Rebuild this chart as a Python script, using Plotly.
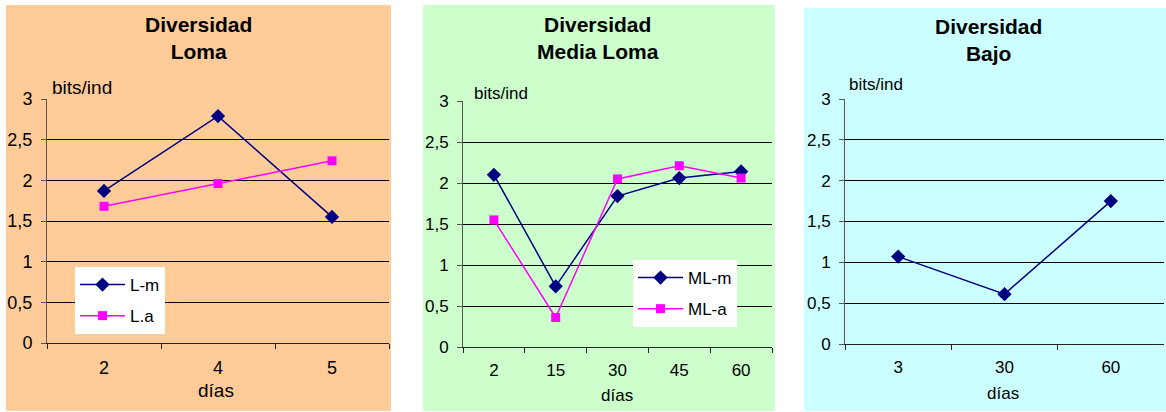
import plotly.graph_objects as go

# datos
dias_loma = ["2", "4", "5"]
loma_m = [1.87, 2.79, 1.55]
loma_a = [1.68, 1.96, 2.24]

dias_media = ["2", "15", "30", "45", "60"]
media_m = [2.10, 0.74, 1.84, 2.06, 2.14]
media_a = [1.55, 0.36, 2.05, 2.21, 2.06]

dias_bajo = ["3", "30", "60"]
bajo_m = [1.07, 0.61, 1.75]

W, H = 1166, 412
FONT = "Liberation Sans, Arial, sans-serif"
NAVY = "#000080"
MAGENTA = "#FF00FF"


def px(x):
    return x / W


def py(y):
    return 1 - y / H


fig = go.Figure()

# Loma
fig.add_trace(go.Scatter(x=dias_loma, y=loma_m, name="L-m", mode="lines+markers",
                         line=dict(color=NAVY, width=1.5),
                         marker=dict(symbol="diamond", size=11, color=NAVY),
                         xaxis="x", yaxis="y", legend="legend", legendgroup="a"))
fig.add_trace(go.Scatter(x=dias_loma, y=loma_a, name="L.a", mode="lines+markers",
                         line=dict(color=MAGENTA, width=1.5),
                         marker=dict(symbol="square", size=9, color=MAGENTA),
                         xaxis="x", yaxis="y", legend="legend", legendgroup="b"))
# Media Loma
fig.add_trace(go.Scatter(x=dias_media, y=media_m, name="ML-m", mode="lines+markers",
                         line=dict(color=NAVY, width=1.5),
                         marker=dict(symbol="diamond", size=11, color=NAVY),
                         xaxis="x2", yaxis="y2", legend="legend2", legendgroup="c"))
fig.add_trace(go.Scatter(x=dias_media, y=media_a, name="ML-a", mode="lines+markers",
                         line=dict(color=MAGENTA, width=1.5),
                         marker=dict(symbol="square", size=9, color=MAGENTA),
                         xaxis="x2", yaxis="y2", legend="legend2", legendgroup="d"))
# Bajo
fig.add_trace(go.Scatter(x=dias_bajo, y=bajo_m, name="B-m", mode="lines+markers",
                         line=dict(color=NAVY, width=1.5),
                         marker=dict(symbol="diamond", size=11, color=NAVY),
                         xaxis="x3", yaxis="y3", showlegend=False))

# panel: fondo (x0, x1, y top, color), area (x0, x1, y top, y bottom), n categorias, fuente
panels = [
    ((6, 391, 5, "#FFCC99"), (47, 389, 99, 343), 3, 17),
    ((423, 775, 5, "#CCFFCC"), (463, 772, 101, 347), 5, 16),
    ((804, 1166, 8, "#CCFFFF"), (845, 1164, 99, 344), 3, 16),
]

shapes = []
for i, (bg, area, n, fs) in enumerate(panels):
    shapes.append(dict(type="rect", xref="paper", yref="paper", layer="below",
                       x0=px(bg[0]), x1=px(bg[1]), y0=py(411), y1=py(bg[2]),
                       fillcolor=bg[3], line=dict(width=0)))
    sfx = "" if i == 0 else str(i + 1)
    fig.layout["xaxis" + sfx] = dict(
        domain=[px(area[0]), px(area[1])], anchor="y" + sfx, type="category",
        range=[-0.5, n - 0.5], showline=True, linecolor="#222", linewidth=1,
        ticks="outside", tickson="boundaries", ticklen=5, tickcolor="#222",
        showgrid=False, ticklabelstandoff=8, fixedrange=True, automargin=False,
        tickfont=dict(family=FONT, size=fs + 1, color="black"))
    fig.layout["yaxis" + sfx] = dict(
        domain=[py(area[3]), py(area[2])], anchor="x" + sfx, range=[0, 3],
        dtick=0.5, showline=True, linecolor="#555", linewidth=1,
        ticks="outside", ticklen=5, tickcolor="#555", showgrid=True,
        gridcolor="black", gridwidth=1, zeroline=False, ticklabelstandoff=5,
        fixedrange=True, automargin=False,
        tickfont=dict(family=FONT, size=fs + 1, color="black"))

titles = [("Diversidad<br>Loma", 198, 37.5), ("Diversidad<br>Media Loma", 598, 37.5),
          ("Diversidad<br>Bajo", 988, 39.5)]
units = [(50, 87, 19), (472, 93, 17), (847, 84, 17)]
xlabels = [(216, 390, 19), (617, 395, 17), (1003, 393, 17)]

annotations = []
for (t, x, y), (ux, uy, us), (dx, dy, ds) in zip(titles, units, xlabels):
    annotations.append(dict(text="<b>" + t.replace("<br>", "</b><br><b>") + "</b>",
                            x=px(x), y=py(y), xref="paper", yref="paper",
                            xanchor="center", yanchor="middle", showarrow=False,
                            font=dict(family=FONT, size=21, color="black")))
    annotations.append(dict(text="bits/ind", x=px(ux), y=py(uy), xref="paper", yref="paper",
                            xanchor="left", yanchor="middle", showarrow=False,
                            font=dict(family=FONT, size=us, color="black")))
    annotations.append(dict(text="días", x=px(dx), y=py(dy), xref="paper", yref="paper",
                            xanchor="center", yanchor="middle", showarrow=False,
                            font=dict(family=FONT, size=ds, color="black")))

legend_style = dict(bgcolor="white", borderwidth=0, xanchor="left", yanchor="top",
                    itemwidth=45, tracegroupgap=6,
                    font=dict(family=FONT, size=17, color="black"))

fig.update_layout(
    width=W, height=H,
    margin=dict(l=0, r=0, t=0, b=0, autoexpand=False),
    paper_bgcolor="white",
    plot_bgcolor="rgba(0,0,0,0)",
    separators=",.",
    shapes=shapes,
    annotations=annotations,
    legend=dict(x=px(75), y=py(267), **legend_style),
    legend2=dict(x=px(633), y=py(260), **legend_style),
)

fig.write_html("out.html", config={"displayModeBar": False},
               post_script="document.body.style.margin='0';")
